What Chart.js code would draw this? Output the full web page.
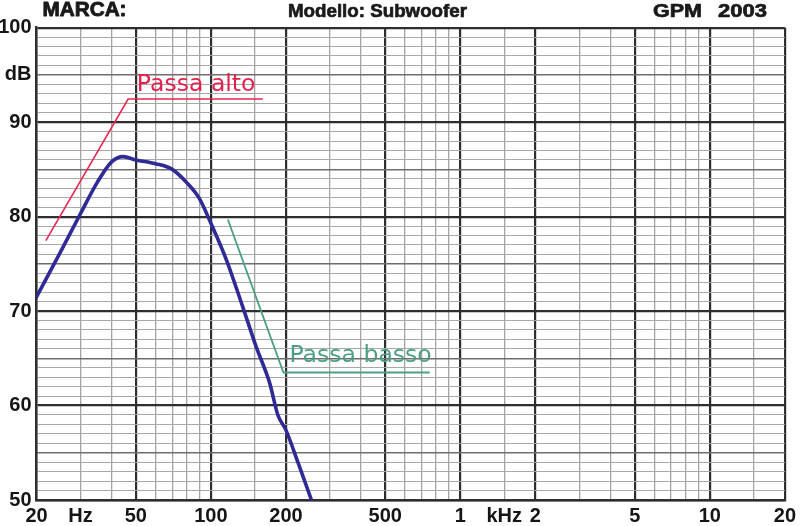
<!DOCTYPE html>
<html><head><meta charset="utf-8">
<script src="https://cdn.jsdelivr.net/npm/chart.js@4/dist/chart.umd.min.js"></script>
<style>html,body{margin:0;padding:0;background:#fff}#wrap{width:800px;height:526px;position:relative}</style>
</head><body><div id="wrap"><canvas id="c"></canvas></div>
<script>
// Frequency response (Hz, dB)
const responseFreq = [20, 25, 30, 35, 40, 44.5, 50, 60, 70, 80, 90, 100, 115.5, 134, 152, 172, 185.6, 200, 224, 253];
const responseDb   = [71.5, 76.3, 80.3, 83.6, 85.8, 86.35, 86.0, 85.6, 85.0, 83.6, 81.9, 79.3, 75.4, 70.5, 66.2, 62.4, 59.0, 57.4, 53.9, 50.0];
// "Passa alto" marker line
const highPassFreq = [21.8, 46.6, 161.6];
const highPassDb   = [77.45, 92.45, 92.45];
// "Passa basso" marker line
const lowPassFreq = [117, 195.4, 754];
const lowPassDb   = [79.7, 63.5, 63.5];
// Grid / tick definitions
const gridFreqs = [20,30,40,50,60,70,80,90,100,150,200,300,400,500,600,700,800,900,1000,1500,2000,3000,4000,5000,6000,7000,8000,9000,10000,15000,20000];
const majorFreqs = [20,50,100,200,500,1000,2000,5000,10000,20000];
const freqTickLabels = {20:'20',30:'Hz',50:'50',100:'100',200:'200',500:'500',1000:'1',1500:'kHz',2000:'2',5000:'5',10000:'10',20000:'20'};
const dbTickLabels = {100:'100',95:'dB',90:'90',80:'80',70:'70',60:'60',50:'50'};
const headerTexts = ['MARCA:', 'Modello: Subwoofer', 'GPM', '2003'];
const annotationTexts = ['Passa alto', 'Passa basso'];

const toPts = (xs, ys) => xs.map((x, i) => ({x, y: ys[i]}));

function fitText(ctx, text, left, baseline, width, font, color, stroke) {
  ctx.save();
  ctx.font = font;
  const w = ctx.measureText(text).width;
  ctx.translate(left, baseline);
  ctx.scale(width / w, 1);
  ctx.fillStyle = color;
  ctx.textAlign = 'left';
  ctx.textBaseline = 'alphabetic';
  ctx.fillText(text, 0, 0);
  if (stroke) { ctx.strokeStyle = color; ctx.lineWidth = stroke; ctx.lineJoin = 'round'; ctx.strokeText(text, 0, 0); }
  ctx.restore();
}

const textPlugin = {
  id: 'texts',
  afterDraw(chart) {
    const ctx = chart.ctx, xs = chart.scales.x, ys = chart.scales.y;
    const hf = 'bold 19px "Liberation Sans", Arial, sans-serif';
    fitText(ctx, headerTexts[0], 42.5, 16, 84, 'bold 21px "Liberation Sans", Arial, sans-serif', '#1a1a1a', 0.9);
    fitText(ctx, headerTexts[1], 288, 17, 179, hf, '#1a1a1a', 0.7);
    fitText(ctx, headerTexts[2], 653, 17, 49, hf, '#1a1a1a', 0.7);
    fitText(ctx, headerTexts[3], 718, 17, 49, hf, '#1a1a1a', 0.7);
    const af = '23px "DejaVu Sans", sans-serif';
    let l = xs.getPixelForValue(50.5), r = xs.getPixelForValue(151);
    fitText(ctx, annotationTexts[0], l, ys.getPixelForValue(93.33), r - l, af, '#e41f4c');
    l = xs.getPixelForValue(206.6); r = xs.getPixelForValue(768);
    fitText(ctx, annotationTexts[1], l, ys.getPixelForValue(64.6), r - l, af, '#4c9f86');
  }
};

const dark = '#2e2e2e';
new Chart(document.getElementById('c'), {
  type: 'scatter',
  data: {
    datasets: [
      {data: toPts(highPassFreq, highPassDb), showLine: true, borderColor: '#e8264f', borderWidth: 1.6, pointRadius: 0, tension: 0},
      {data: toPts(lowPassFreq, lowPassDb), showLine: true, borderColor: '#4a9e83', borderWidth: 1.8, pointRadius: 0, tension: 0},
      {data: toPts(responseFreq, responseDb), showLine: true, borderColor: '#2f2a95', borderWidth: 3.6, pointRadius: 0, cubicInterpolationMode: 'monotone', borderCapStyle: 'round', borderJoinStyle: 'round'}
    ]
  },
  options: {
    responsive: true, maintainAspectRatio: false, animation: false,
    layout: {padding: {top: 27.7, right: 13.5, left: 0, bottom: 0}},
    plugins: {legend: {display: false}, tooltip: {enabled: false}},
    events: [],
    scales: {
      x: {
        type: 'logarithmic', min: 20, max: 20000,
        afterBuildTicks: s => { s.ticks = gridFreqs.map(v => ({value: v})); },
        afterFit: s => { s.height = 26; },
        ticks: {autoSkip: false, maxRotation: 0, padding: 4, color: '#151515',
          font: {family: '"Liberation Sans", Arial, sans-serif', size: 20, weight: 'bold'},
          callback: v => freqTickLabels[v] || ''},
        grid: {drawTicks: false,
          color: c => majorFreqs.includes(c.tick.value) ? dark : '#a3a3a3',
          lineWidth: c => majorFreqs.includes(c.tick.value) ? 2.2 : 1.3},
        border: {display: true, color: dark, width: 2.5}
      },
      y: {
        min: 50, max: 100,
        afterBuildTicks: s => { const t = []; for (let v = 50; v <= 100; v++) t.push({value: v}); s.ticks = t; },
        afterFit: s => { s.width = 36.5; },
        ticks: {autoSkip: false, padding: 5, color: '#151515',
          font: {family: '"Liberation Sans", Arial, sans-serif', size: 20, weight: 'bold'},
          callback: v => dbTickLabels[v] || ''},
        grid: {drawTicks: false,
          color: c => c.tick.value % 10 === 0 ? dark : (c.tick.value % 5 === 0 ? '#6e6e6e' : '#a8a8a8'),
          lineWidth: c => c.tick.value % 10 === 0 ? 2.2 : (c.tick.value % 5 === 0 ? 1.5 : 1.1)},
        border: {display: true, color: dark, width: 2.5}
      }
    }
  },
  plugins: [textPlugin]
});
</script></body></html>
